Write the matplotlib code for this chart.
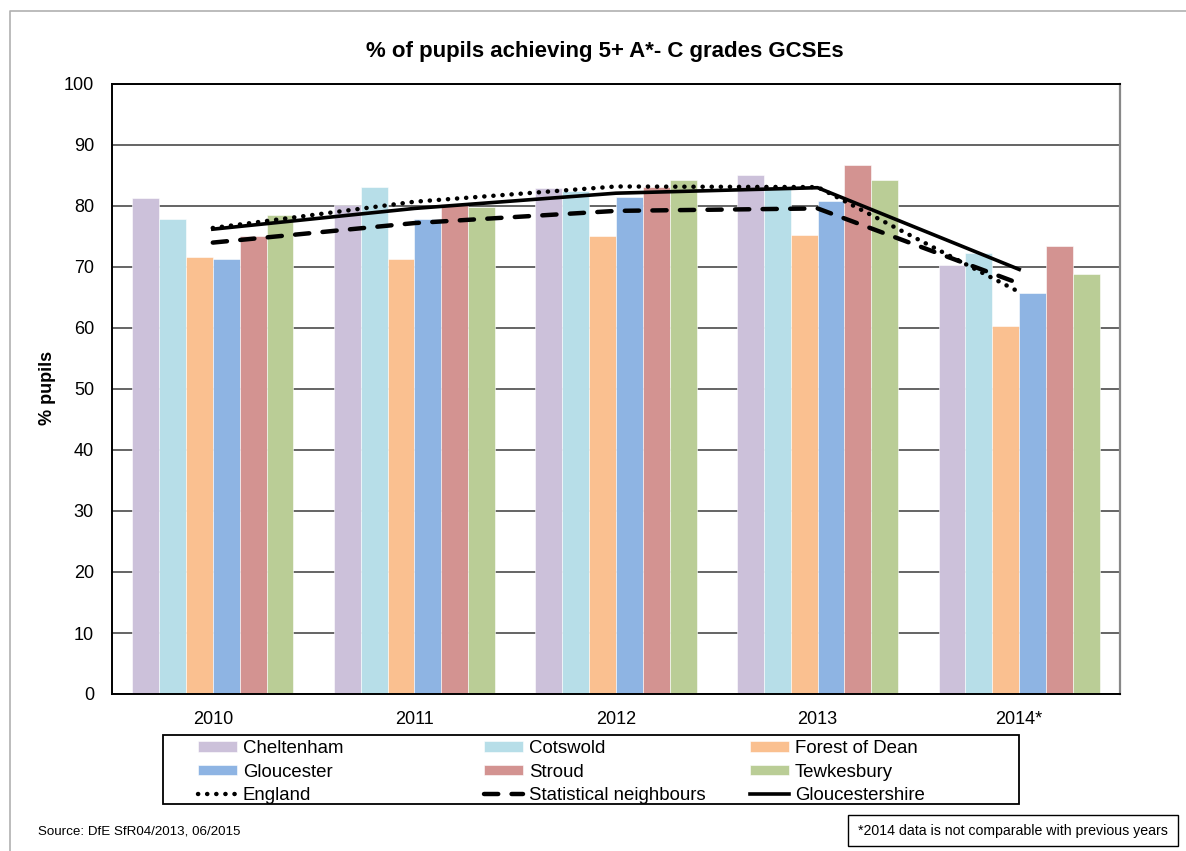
import numpy as np
import matplotlib
matplotlib.use("Agg")
import matplotlib.pyplot as plt
from matplotlib.patches import Rectangle
from matplotlib.lines import Line2D

plt.rcParams["font.family"] = ["Liberation Sans", "DejaVu Sans"]

years = ["2010", "2011", "2012", "2013", "2014*"]

cheltenham = [81.3, 80.1, 82.9, 85.1, 70.3]
cotswold = [77.8, 83.1, 82.5, 82.8, 72.3]
forest_of_dean = [71.6, 71.3, 75.1, 75.2, 60.3]
gloucester = [71.3, 77.8, 81.4, 80.8, 65.7]
stroud = [75.1, 80.3, 83.1, 86.7, 73.5]
tewkesbury = [78.5, 79.9, 84.3, 84.3, 68.9]

england = [76.4, 80.7, 83.2, 83.1, 65.9]
stat_neighbours = [74.0, 77.2, 79.2, 79.6, 67.3]
gloucestershire = [76.2, 79.6, 82.1, 83.0, 69.6]

districts = ["Cheltenham", "Cotswold", "Forest of Dean", "Gloucester", "Stroud", "Tewkesbury"]
district_vals = [cheltenham, cotswold, forest_of_dean, gloucester, stroud, tewkesbury]
colours = ["#ccc1da", "#b7dee8", "#fac090", "#8eb4e3", "#d39391", "#bacd96"]

W, H = 1186, 851
fig = plt.figure(figsize=(W / 100, H / 100), dpi=100)
ax = fig.add_axes([112 / W, 1 - 694 / H, (1120 - 112) / W, (694 - 84) / H])

x = np.arange(len(years))
bw = 0.8 / 6
bars = []
for i, (name, vals, c) in enumerate(zip(districts, district_vals, colours)):
    b = ax.bar(x - 0.4 + bw * (i + 0.5), vals, bw, color=c, edgecolor="white",
               linewidth=0.4, label=name, zorder=2)
    bars.append(b)

l_eng, = ax.plot(x, england, color="black", lw=3.2, linestyle=(0, (0.05, 2.0)),
                 dash_capstyle="round", label="England", zorder=4)
l_stat, = ax.plot(x, stat_neighbours, color="black", lw=3.2, linestyle=(0, (3.2, 3.0)),
                  dash_capstyle="round", label="Statistical neighbours", zorder=4)
l_glos, = ax.plot(x, gloucestershire, color="black", lw=2.6, label="Gloucestershire", zorder=3)

ax.set_xlim(-0.5, len(years) - 0.5)
ax.set_ylim(0, 100)
ax.set_yticks(range(0, 101, 10))
ax.set_xticks(x)
ax.set_xticklabels(years)
ax.tick_params(axis="both", length=0, labelsize=13)
ax.tick_params(axis="y", pad=13)
ax.tick_params(axis="x", pad=12)
ax.yaxis.grid(True, color="#3a3a3a", linewidth=1.1, zorder=1)
ax.set_axisbelow(True)
for s in ["left", "bottom", "top"]:
    ax.spines[s].set_color("black")
    ax.spines[s].set_linewidth(1.4)
ax.spines["right"].set_color("#888888")
ax.spines["right"].set_linewidth(1.6)

ax.set_ylabel("% pupils", fontsize=13, fontweight="bold", labelpad=0)
ax.yaxis.set_label_coords((56 - 112) / (1120 - 112), (694 - 388) / (694 - 84))
fig.text(605 / W, 1 - 52 / H, "% of pupils achieving 5+ A*- C grades GCSEs",
         ha="center", va="center", fontsize=16, fontweight="bold")

# legend: three columns placed separately, one frame round them
columns = [
    ([bars[0], bars[3], l_eng], ["Cheltenham", "Gloucester", "England"], 198),
    ([bars[1], bars[4], l_stat], ["Cotswold", "Stroud", "Statistical neighbours"], 484),
    ([bars[2], bars[5], l_glos], ["Forest of Dean", "Tewkesbury", "Gloucestershire"], 750),
]
for handles, labels, left in columns:
    lg = fig.legend(handles, labels, loc="upper left",
                    bbox_to_anchor=(left / W, 1 - 740 / H), frameon=False,
                    fontsize=13.4, handlelength=2.1, handleheight=0.5,
                    handletextpad=0.3, labelspacing=0.36, borderpad=0,
                    borderaxespad=0)
fig.patches.append(Rectangle((163 / W, 1 - 804 / H), (1019 - 163) / W, 69 / H,
                             transform=fig.transFigure, fill=False,
                             edgecolor="black", linewidth=1.3))

fig.text(38 / W, 1 - 832 / H, "Source: DfE SfR04/2013, 06/2015",
         ha="left", va="center", fontsize=9.6)
fig.patches.append(Rectangle((848 / W, 1 - 846 / H), (1178 - 848) / W, 31 / H,
                             transform=fig.transFigure, fill=False,
                             edgecolor="black", linewidth=1.0))
fig.text(858 / W, 1 - 831 / H, "*2014 data is not comparable with previous years",
         ha="left", va="center", fontsize=10.2)

# outer chart border
fig.lines.append(Line2D([10 / W, 10 / W, 1.0], [0.0, 1 - 11 / H, 1 - 11 / H],
                        transform=fig.transFigure, color="#b0b0b0", linewidth=1.2))

fig.savefig("out.png", dpi=100)
